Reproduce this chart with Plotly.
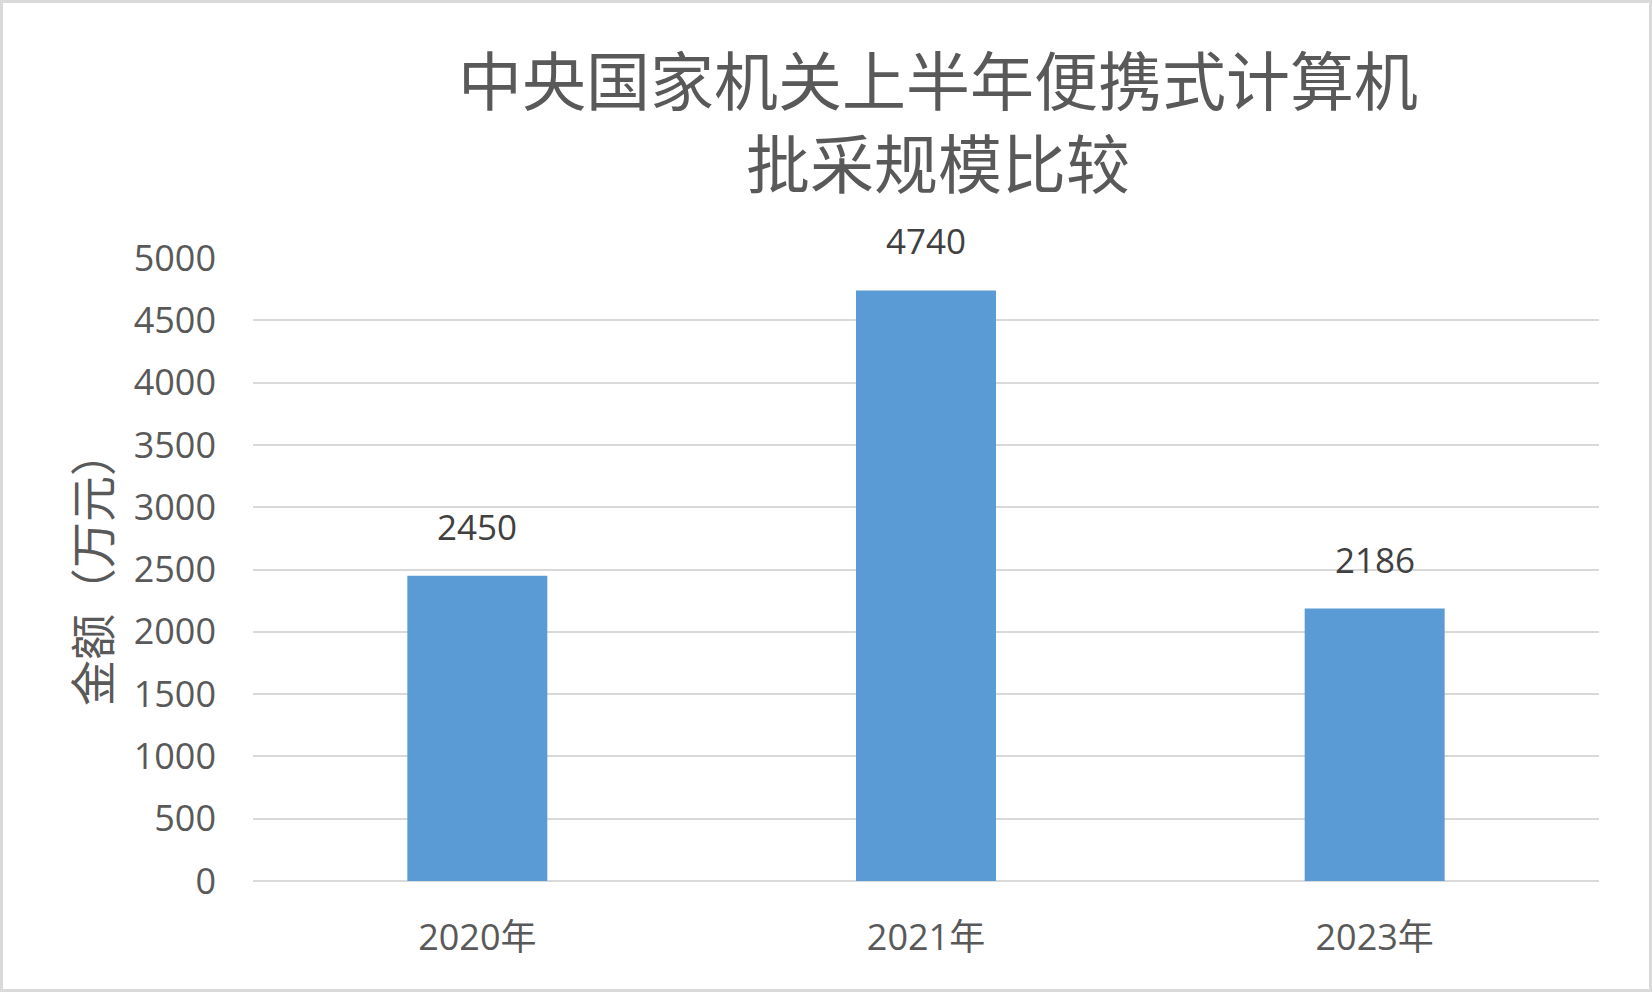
import plotly.graph_objects as go

categories = ["2020年", "2021年", "2023年"]
values = [2450, 4740, 2186]
title_lines = ["中央国家机关上半年便携式计算机", "批采规模比较"]
y_title = "金额（万元）"

W, H = 1652, 992
ml, mr, mt, mb = 253, 53, 258, 111
pw, ph = W - ml - mr, H - mt - mb

fig = go.Figure()
fig.add_trace(go.Bar(
    x=categories, y=values,
    marker=dict(color="#5b9bd5", line=dict(width=0)),
    hoverinfo="skip",
))

for c, v in zip(categories, values):
    fig.add_annotation(
        x=c, y=v, text=str(v), showarrow=False,
        yanchor="bottom", yshift=24,
        font=dict(family="Open Sans, Noto Sans", size=35, color="#404040"),
    )

for line, yc in zip(title_lines, [77, 160]):
    fig.add_annotation(
        xref="paper", yref="paper",
        x=(938 - ml) / pw, y=(H - mb - yc) / ph,
        text=line, showarrow=False, xanchor="center", yanchor="middle",
        font=dict(family="Noto Sans CJK SC", size=64, color="#595959"),
    )

fig.add_annotation(
    xref="paper", yref="paper",
    x=(90 - ml) / pw, y=(H - mb - 568) / ph,
    text=y_title, textangle=-90, showarrow=False,
    xanchor="center", yanchor="middle",
    font=dict(family="Noto Sans CJK SC", size=46, color="#595959"),
)

fig.add_shape(
    type="rect", xref="paper", yref="paper",
    x0=(1.5 - ml) / pw, x1=(W - 1.5 - ml) / pw,
    y0=-(mb - 1.5) / ph, y1=1 + (mt - 1.5) / ph,
    line=dict(color="#d9d9d9", width=3), layer="below",
)

fig.update_layout(
    width=W, height=H,
    margin=dict(l=ml, r=mr, t=mt, b=mb, pad=0),
    paper_bgcolor="white", plot_bgcolor="white",
    showlegend=False,
    bargap=0.688,
    xaxis=dict(
        showgrid=False, showline=False, zeroline=False, ticks="",
        tickfont=dict(family="Open Sans, Noto Sans CJK SC", size=36, color="#595959"),
        ticklabelstandoff=32,
    ),
    yaxis=dict(
        range=[0, 5000], dtick=500, tick0=0,
        showgrid=True, gridcolor="#d9d9d9", gridwidth=2,
        zeroline=True, zerolinecolor="#d9d9d9", zerolinewidth=2,
        showline=False, ticks="",
        tickfont=dict(family="Open Sans, Noto Sans", size=36, color="#595959"),
        ticklabelstandoff=36,
    ),
)

fig.write_html("out.html")
